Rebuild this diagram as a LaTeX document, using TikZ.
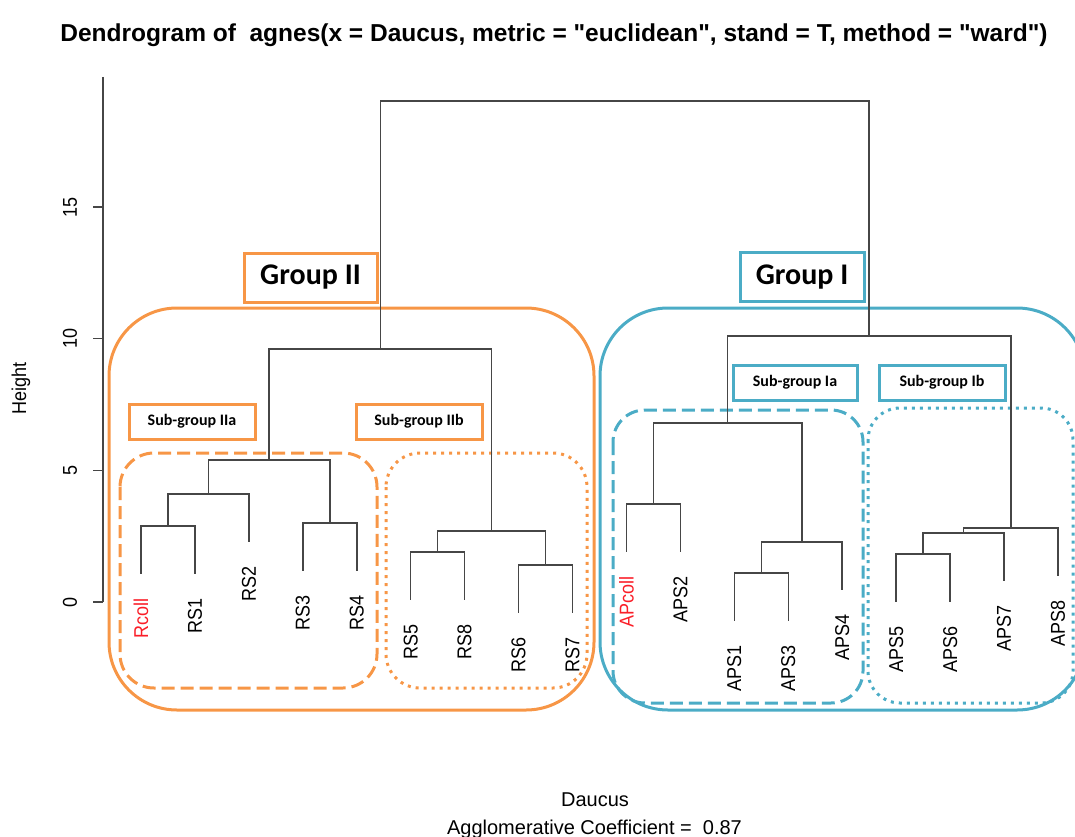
\documentclass[tikz,border=0pt]{standalone}
\usepackage{fontspec}
\setmainfont{Liberation Sans}
\newfontfamily\qfont[Ligatures=TeXOff]{Liberation Sans}
\newfontfamily\calib{Carlito}
\usepackage{graphicx}
\definecolor{orng}{RGB}{247,150,70}
\definecolor{blu}{RGB}{75,172,198}
\definecolor{dgray}{RGB}{70,70,70}
\definecolor{lred}{RGB}{250,30,40}
\newcommand{\lab}[1]{\scalebox{0.9}[1]{#1}}
\newcommand{\dq}{{\qfont\bfseries "}}
\begin{document}
\begin{tikzpicture}[x=1pt,y=-1pt,
  dend/.style={draw=dgray, line width=1.5pt},
  axisline/.style={draw=dgray, line width=1.3pt},
  leaflab/.style={rotate=90, anchor=east, inner sep=0pt, font=\fontsize{20pt}{24pt}\selectfont},
  ticklab/.style={rotate=90, inner sep=0pt, font=\fontsize{20pt}{24pt}\selectfont},
  plain/.style={inner sep=0pt, font=\fontsize{20pt}{24pt}\selectfont},
  bigbox/.style={line width=3pt, rounded corners=68pt},
  dashbox/.style={line width=3pt, rounded corners=34pt, dash pattern=on 13pt off 6pt},
  dotbox/.style={line width=3pt, rounded corners=34pt, dash pattern=on 3pt off 5pt},
  grplab/.style={line width=3pt, inner sep=0pt, minimum height=49pt, font=\calib\bfseries\fontsize{30pt}{36pt}\selectfont},
  sublab/.style={line width=3pt, inner sep=0pt, minimum width=126pt, minimum height=35pt, font=\calib\bfseries\fontsize{16pt}{19pt}\selectfont}
]
\useasboundingbox (0,0) rectangle (1075,837);

% title
\node[plain, anchor=base, font=\bfseries\fontsize{24.5pt}{28pt}\selectfont] (title) at (554,42)
  {Dendrogram of\ \ agnes(x = Daucus, metric = \dq euclidean\dq, stand = T, method = \dq ward\dq)};

% group boxes
\draw[bigbox, orng] (109,308) rectangle (594,710);
\draw[bigbox, blu] (600,308) rectangle (1085,710);
\draw[dashbox, orng] (120,453) rectangle (377,688);
\draw[dotbox, orng] (386,453) rectangle (587,688);
\draw[dashbox, blu, rounded corners=32pt] (613,410) rectangle (863,703);
\draw[dotbox, blu, rounded corners=32pt] (868,408) rectangle (1073,703);

% group labels
\node[grplab, draw=orng, minimum width=133pt] (gII) at (310.5,277.5) {Group II};
\node[grplab, draw=blu, minimum width=124pt] (gI) at (802,277) {Group I};
\node[sublab, draw=orng] (sIIa) at (192,421.5) {Sub-group IIa};
\node[sublab, draw=orng] (sIIb) at (419,421.5) {Sub-group IIb};
\node[sublab, draw=blu, minimum width=124pt] (sIa) at (795,382.5) {Sub-group Ia};
\node[sublab, draw=blu] (sIb) at (942,382.5) {Sub-group Ib};

% axis
\coordinate (axbot) at (103,602);
\coordinate (axtop) at (103,77);
\draw[axisline] (axtop) -- (axbot);
\foreach \v/\yy in {0/602,5/470.4,10/338.7,15/207}{
  \coordinate (tk\v) at (103,\yy);
  \draw[axisline] (tk\v) -- ++(-10,0);
  \node[ticklab] (tl\v) at (70,\yy) {\lab{\v}};
}
\node[ticklab] (ylab) at (21,388) {\lab{Height}};

% leaves: name / x / leaf end y
\foreach \n/\xx/\yy/\c in {Rcoll/141/573.5/lred, RS1/194.9/573.5/black, RS2/248.9/541.5/black,
  RS3/302.8/570.5/black, RS4/356.8/570.5/black, RS5/410.7/599.5/black, RS8/464.6/599.5/black,
  RS6/518.6/612.5/black, RS7/572.5/612.5/black, APcoll/626.5/551.5/lred, APS2/680.4/551.5/black,
  APS1/734.3/620.5/black, APS3/788.3/620.5/black, APS4/842.2/589.5/black, APS5/896.2/601.5/black,
  APS6/950.1/601.5/black, APS7/1004/580.5/black, APS8/1058/575.5/black}{
  \coordinate (\n) at (\xx,\yy);
  \node[leaflab, text=\c] (t\n) at (\xx,\yy+25) {\lab{\n}};
}

% merge points
\coordinate (m1) at (167.95,526);
\coordinate (m2) at (208.4,494);
\coordinate (m3) at (329.8,523);
\coordinate (mIIa) at (269.1,460);
\coordinate (m5) at (437.65,552);
\coordinate (m6) at (545.55,565);
\coordinate (mIIb) at (491.6,531);
\coordinate (mII) at (380.35,349);
\coordinate (m9) at (653.45,504);
\coordinate (m10) at (761.3,573);
\coordinate (m11) at (801.75,542);
\coordinate (mIa) at (727.6,423);
\coordinate (m13) at (923.15,554);
\coordinate (m14) at (963.6,533);
\coordinate (mIb) at (1010.8,528);
\coordinate (mI) at (869.2,336);
\coordinate (root) at (624.8,101);

\draw[dend] (Rcoll) |- (m1) -| (RS1);
\draw[dend] (m1) |- (m2) -| (RS2);
\draw[dend] (RS3) |- (m3) -| (RS4);
\draw[dend] (m2) |- (mIIa) -| (m3);
\draw[dend] (RS5) |- (m5) -| (RS8);
\draw[dend] (RS6) |- (m6) -| (RS7);
\draw[dend] (m5) |- (mIIb) -| (m6);
\draw[dend] (mIIa) |- (mII) -| (mIIb);
\draw[dend] (APcoll) |- (m9) -| (APS2);
\draw[dend] (APS1) |- (m10) -| (APS3);
\draw[dend] (m10) |- (m11) -| (APS4);
\draw[dend] (m9) |- (mIa) -| (m11);
\draw[dend] (APS5) |- (m13) -| (APS6);
\draw[dend] (m13) |- (m14) -| (APS7);
\draw[dend] (m14) |- (mIb) -| (APS8);
\draw[dend] (mIa) |- (mI) -| (mIb);
\draw[dend] (mII) |- (root) -| (mI);

% bottom texts
\node[plain, anchor=base] (xlab) at (595,806.5) {Daucus};
\node[plain, anchor=base] (coef) at (594.5,834) {Agglomerative Coefficient =\ \ 0.87};
\end{tikzpicture}
\end{document}
